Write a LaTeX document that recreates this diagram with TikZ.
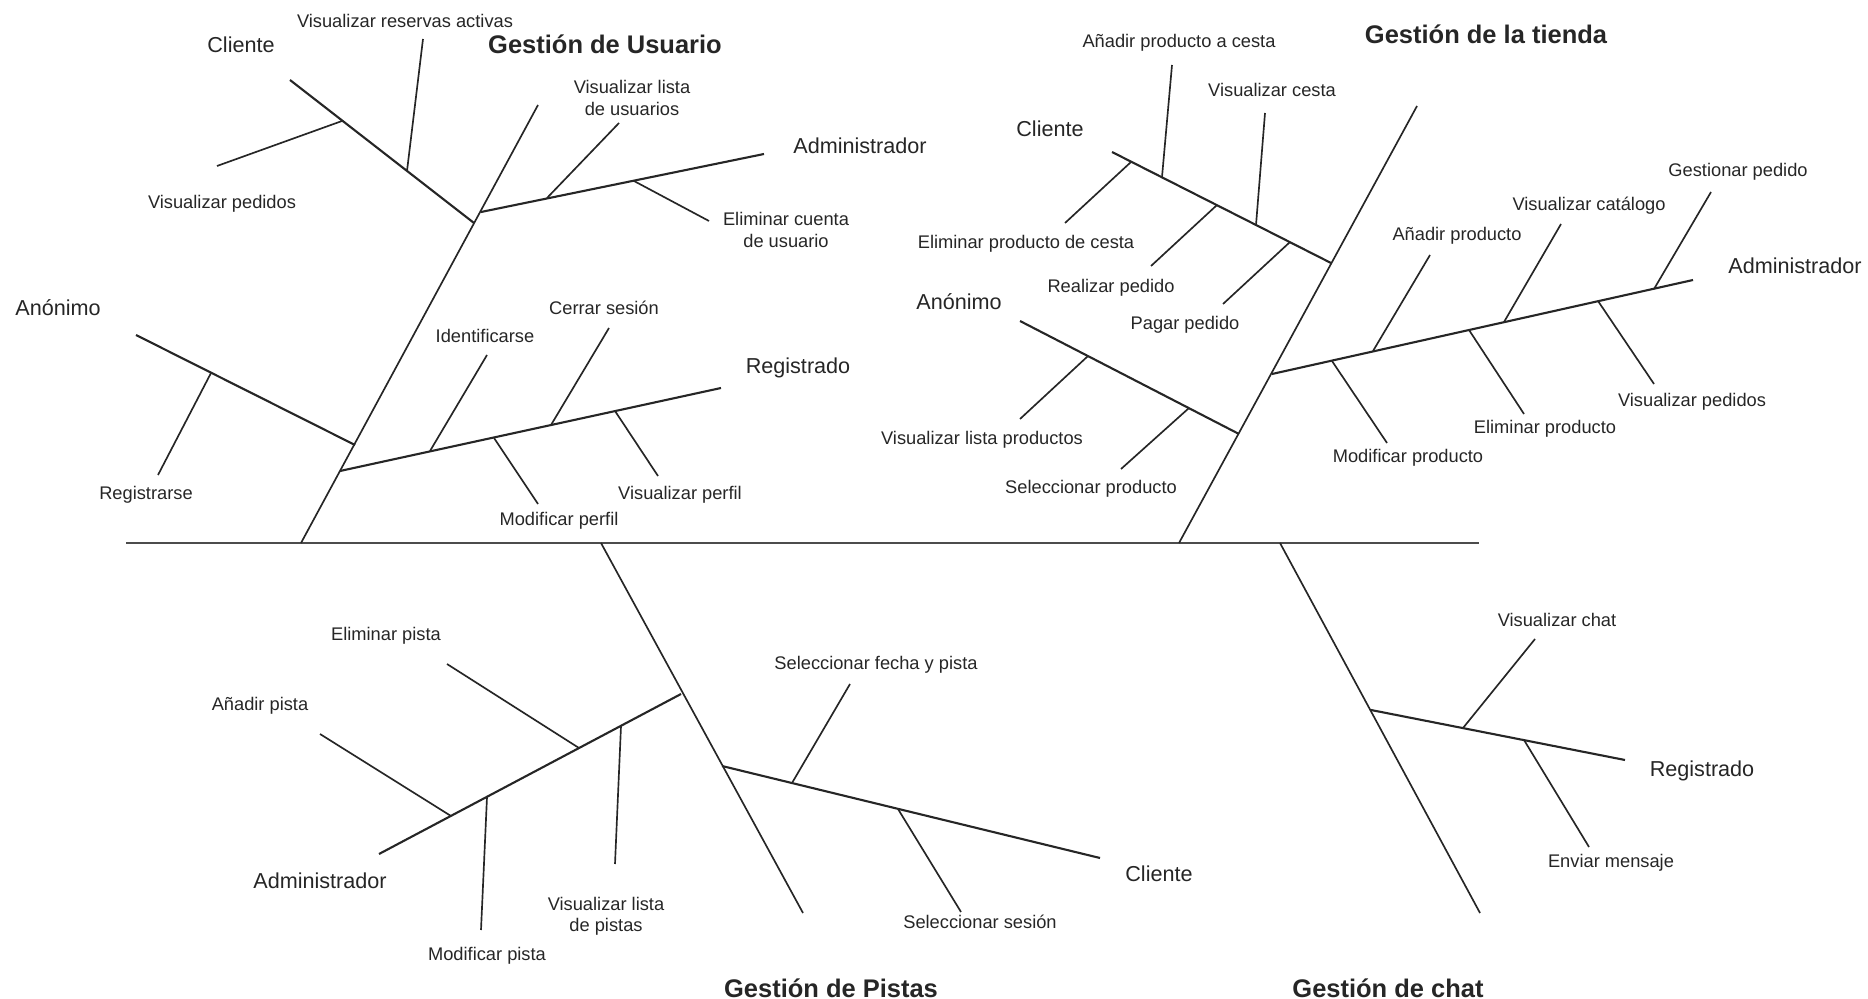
\documentclass[tikz,border=0pt]{standalone}
\usepackage{fontspec}
\setmainfont{Liberation Sans}

\begin{document}
\begin{tikzpicture}[
    x=0.02cm, y=-0.02cm,
    spine/.style={draw=black!70, line width=1.4pt},
    bone/.style={draw=black!85, line width=0.95pt},
    branch/.style={draw=black!85, line width=1.2pt},
    every node/.style={inner sep=1pt, align=center, text=black!85},
    task/.style={font=\fontsize{10.4}{12.2}\selectfont},
    role/.style={font=\fontsize{12.3}{14}\selectfont},
    area/.style={font=\bfseries\fontsize{14.5}{17}\selectfont}
  ]
  \useasboundingbox (0,0) rectangle (1868,999);

  % spine
  \coordinate (spL) at (126,543);
  \coordinate (spR) at (1479,543);
  \draw[spine] (spL) -- (spR);

  % main bones and leaf bones
  \foreach \n/\xa/\ya/\xb/\yb in {
      us/301/543/538/105, pi/601/543/803/913, ti/1179/543/1417/106, ch/1280/543/1480/913,
      usCa/217/166/342/121, usCb/423/39/407/171, usAa/619/123/547/198, usAb/709/221/634/181,
      usNa/158/475/211/373, usGa/487/355/430/451, usGb/609/328/551/425, usGc/494/438/538/504,
      usGd/615/411/658/476,
      piAa/320/734/451/816, piAb/447/664/579/748, piAc/487/797/481/930, piAd/621/726/615/864,
      piCa/850/684/792/783, piCb/898/809/961/912,
      tiCa/1172/65/1162/177, tiCb/1265/113/1256/225, tiCc/1131/162/1065/223,
      tiCd/1217/205/1151/266, tiCe/1290/242/1223/304, tiNa/1088/356/1020/419,
      tiNb/1189/408/1121/469, tiAa/1430/255/1373/351, tiAb/1561/224/1504/322,
      tiAc/1711/192/1654/289, tiAd/1332/361/1387/443, tiAe/1469/330/1524/414,
      tiAf/1598/301/1654/384,
      chGa/1535/639/1463/728, chGb/1524/740/1589/847}{
    \coordinate (\n-1) at (\xa,\ya);
    \coordinate (\n-2) at (\xb,\yb);
    \draw[bone] (\n-1) -- (\n-2);
  }

  % actor branches
  \foreach \n/\xa/\ya/\xb/\yb in {
      usC/290/80/474/223, usA/481/212/764/154, usN/136/335/355/445, usG/340/471/721/388,
      piA/681/694/379/854, piC/722/766/1100/858,
      tiC/1112/152/1331/263, tiN/1020/321/1239/434, tiA/1272/374/1693/280,
      chG/1371/710/1625/760}{
    \coordinate (\n-1) at (\xa,\ya);
    \coordinate (\n-2) at (\xb,\yb);
    \draw[branch] (\n-1) -- (\n-2);
  }

  % Gestion de Usuario
  \node[area] (usuario) at (605,44) {Gestión de Usuario};
  \node[role] (us-cli) at (241,45) {Cliente};
  \node[task] (us-vped) at (222,204) {Visualizar pedidos};
  \node[task] (us-vres) at (405,21) {Visualizar reservas activas};
  \node[role] (us-adm) at (860,146) {Administrador};
  \node[task] (us-vlis) at (632,98) {Visualizar lista\\de usuarios};
  \node[task] (us-elim) at (786,230) {Eliminar cuenta\\de usuario};
  \node[role] (us-ano) at (58,308) {Anónimo};
  \node[task] (us-regi) at (146,495) {Registrarse};
  \node[role] (us-reg) at (798,368) {Registrado};
  \node[task] (us-iden) at (485,336) {Identificarse};
  \node[task] (us-cerr) at (604,308) {Cerrar sesión};
  \node[task] (us-modp) at (559,521) {Modificar perfil};
  \node[task] (us-visp) at (680,495) {Visualizar perfil};

  % Gestion de Pistas
  \node[area] (pistas) at (831,988) {Gestión de Pistas};
  \node[role] (pi-adm) at (320,881) {Administrador};
  \node[task] (pi-anad) at (260,706) {Añadir pista};
  \node[task] (pi-elim) at (386,636) {Eliminar pista};
  \node[task] (pi-modi) at (487,956) {Modificar pista};
  \node[task] (pi-vlis) at (606,916) {Visualizar lista\\de pistas};
  \node[role] (pi-cli) at (1159,874) {Cliente};
  \node[task] (pi-fech) at (876,665) {Seleccionar fecha y pista};
  \node[task] (pi-sesi) at (980,922) {Seleccionar sesión};

  % Gestion de la tienda
  \node[area] (tienda) at (1486,34) {Gestión de la tienda};
  \node[role] (ti-cli) at (1050,129) {Cliente};
  \node[task] (ti-anac) at (1179,43) {Añadir producto a cesta};
  \node[task] (ti-vces) at (1272,90) {Visualizar cesta};
  \node[task] (ti-elic) at (1026,244) {Eliminar producto de cesta};
  \node[task] (ti-real) at (1111,288) {Realizar pedido};
  \node[task] (ti-paga) at (1185,325) {Pagar pedido};
  \node[role] (ti-ano) at (959,302) {Anónimo};
  \node[task] (ti-vlis) at (982,440) {Visualizar lista productos};
  \node[task] (ti-sele) at (1091,489) {Seleccionar producto};
  \node[role] (ti-adm) at (1795,266) {Administrador};
  \node[task] (ti-anap) at (1457,236) {Añadir producto};
  \node[task] (ti-vcat) at (1589,206) {Visualizar catálogo};
  \node[task] (ti-gest) at (1738,172) {Gestionar pedido};
  \node[task] (ti-modi) at (1408,458) {Modificar producto};
  \node[task] (ti-elip) at (1545,429) {Eliminar producto};
  \node[task] (ti-vped) at (1692,402) {Visualizar pedidos};

  % Gestion de chat
  \node[area] (chat) at (1388,988) {Gestión de chat};
  \node[role] (ch-reg) at (1702,771) {Registrado};
  \node[task] (ch-vcha) at (1557,620) {Visualizar chat};
  \node[task] (ch-envi) at (1611,863) {Enviar mensaje};
\end{tikzpicture}
\end{document}
